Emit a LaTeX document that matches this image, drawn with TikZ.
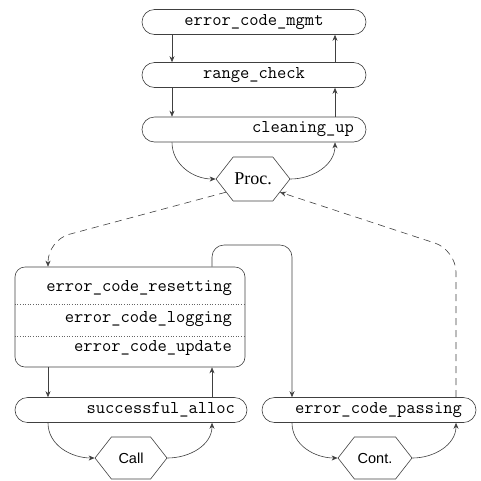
\documentclass[tikz,border=0pt]{standalone}
\usepackage{fontspec}
\newfontfamily\sansf{Liberation Sans}
\newfontfamily\seriff{Liberation Serif}
\usetikzlibrary{shapes.symbols,shapes.misc,arrows.meta,calc}
\begin{document}
\begin{tikzpicture}[x=1pt,y=1pt,
  line/.style={draw=black!75, line width=0.6pt},
  arr/.style={line, -{Stealth[length=6pt,width=5pt]}},
  dsh/.style={arr, dash pattern=on 7pt off 5pt},
  pill/.style={line, rectangle, rounded corners=12.5pt, minimum height=25pt, inner ysep=0pt,
    font=\ttfamily\fontsize{18}{20}\selectfont},
  hexa/.style={line, signal, signal to=west and east, signal pointer angle=104,
    inner sep=0pt},
  boxtext/.style={anchor=base east, inner sep=0pt, font=\ttfamily\fontsize{18}{20}\selectfont},
  sep/.style={draw=black!60, line width=0.6pt, dotted}
]
\useasboundingbox (0,0) rectangle (481,-480);
% top chain
\node[pill, minimum width=224pt] (mgmt) at (254,-22) {error\_code\_mgmt};
\node[pill, minimum width=224pt] (range) at (254,-75) {range\_check};
\node[pill, text width=200pt, inner xsep=12pt, align=right] (clean) at (254,-129.5) {cleaning\_up};
\node[hexa, minimum width=74pt, minimum height=44pt, font=\seriff\fontsize{18}{20}\selectfont] (proc) at (253,-179) {Proc.};
% big box
\node[line, rectangle, rounded corners=10pt, minimum width=230pt, minimum height=100pt] (big) at (130,-317) {};
\node[boxtext] (t1) at (232,-291) {error\_code\_resetting};
\node[boxtext] (t2) at (232,-322) {error\_code\_logging};
\node[boxtext] (t3) at (232,-351) {error\_code\_update};
\draw[sep] (big.west |- 0,-304) -- (big.east |- 0,-304);
\draw[sep] (big.west |- 0,-336) -- (big.east |- 0,-336);
% lower pills
\node[pill, text width=208pt, inner xsep=12pt, align=right] (succ) at (131,-410) {successful\_alloc};
\node[pill, text width=186pt, inner xsep=14pt, align=right] (pass) at (369,-410) {error\_code\_passing};
\node[hexa, minimum width=72pt, minimum height=42pt, font=\sansf\fontsize{14.5}{16}\selectfont] (call) at (131,-458) {Call};
\node[hexa, minimum width=74pt, minimum height=42pt, font=\sansf\fontsize{14.5}{16}\selectfont] (cont) at (375,-458) {Cont.};
% columns
\coordinate (xl) at (172,0);
\coordinate (xr) at (335,0);
\coordinate (ax) at (48,0);
\coordinate (bx) at (212,0);
\coordinate (cx) at (292,0);
\coordinate (dx) at (456,0);
% top connectors
\draw[arr] (mgmt.south -| xl) -- (range.north -| xl);
\draw[arr] (range.north -| xr) -- (mgmt.south -| xr);
\draw[arr] (range.south -| xl) -- (clean.north -| xl);
\draw[arr] (clean.north -| xr) -- (range.south -| xr);
\draw[arr] (clean.south -| xl) to[out=-90,in=180] (proc.west);
\draw[arr] (proc.east) to[out=0,in=-90] (clean.south -| xr);
% dashed
\draw[dsh, rounded corners=22pt] (proc.206) -- (48,-240) -- (big.north -| ax);
\draw[dsh, rounded corners=22pt] (pass.north -| dx) -- (456,-250) -- (proc.334);
% big to passing
\draw[arr, rounded corners=12pt] (big.north -| bx) -- (212,-245) -- (292,-245) -- (pass.north -| cx);
% lower left
\draw[arr] (big.south -| ax) -- (succ.north -| ax);
\draw[arr] (succ.north -| bx) -- (big.south -| bx);
\draw[arr] (succ.south -| ax) to[out=-90,in=180] (call.west);
\draw[arr] (call.east) to[out=0,in=-90] (succ.south -| bx);
% lower right
\draw[arr] (pass.south -| cx) to[out=-90,in=180] (cont.west);
\draw[arr] (cont.east) to[out=0,in=-90] (pass.south -| dx);
\end{tikzpicture}
\end{document}
